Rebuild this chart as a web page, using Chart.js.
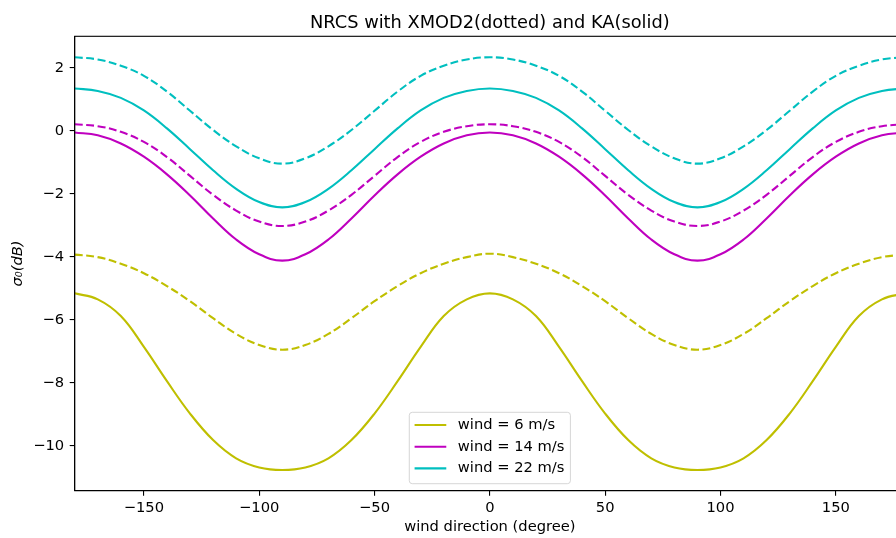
<!DOCTYPE html>
<html>
<head>
<meta charset="utf-8">
<script src="https://cdn.jsdelivr.net/npm/chart.js@4.4.1/dist/chart.umd.min.js"></script>
<style>
  html, body { margin: 0; padding: 0; overflow: hidden; background: #fff; }
  canvas { display: block; }
</style>
</head>
<body>
<canvas id="chart" width="906" height="538"></canvas>
<script>
// wind direction in degrees
const angles = [-180, -170, -160, -150, -140, -130, -120, -110, -100, -90, -80, -70, -60, -50, -40, -30, -20, -10, 0,
  10, 20, 30, 40, 50, 60, 70, 80, 90, 100, 110, 120, 130, 140, 150, 160, 170, 180];

// KA (solid)
const ka6 = [-5.16, -5.35, -5.88, -6.86, -7.95, -8.98, -9.82, -10.40, -10.69, -10.77, -10.69, -10.40, -9.82, -8.98, -7.95, -6.86, -5.88, -5.35, -5.16,
  -5.35, -5.88, -6.86, -7.95, -8.98, -9.82, -10.40, -10.69, -10.77, -10.69, -10.40, -9.82, -8.98, -7.95, -6.86, -5.88, -5.35, -5.16];
const ka14 = [-0.05, -0.14, -0.40, -0.82, -1.38, -2.05, -2.78, -3.45, -3.92, -4.12, -3.92, -3.45, -2.78, -2.05, -1.38, -0.82, -0.40, -0.14, -0.05,
  -0.14, -0.40, -0.82, -1.38, -2.05, -2.78, -3.45, -3.92, -4.12, -3.92, -3.45, -2.78, -2.05, -1.38, -0.82, -0.40, -0.14, -0.05];
const ka22 = [1.35, 1.27, 1.05, 0.65, 0.08, -0.58, -1.25, -1.84, -2.26, -2.43, -2.26, -1.84, -1.25, -0.58, 0.08, 0.65, 1.05, 1.27, 1.35,
  1.27, 1.05, 0.65, 0.08, -0.58, -1.25, -1.84, -2.26, -2.43, -2.26, -1.84, -1.25, -0.58, 0.08, 0.65, 1.05, 1.27, 1.35];

// XMOD2 (dashed)
const xmod6 = [-3.93, -4.01, -4.22, -4.52, -4.93, -5.41, -5.95, -6.45, -6.80, -6.95, -6.80, -6.45, -5.95, -5.41, -4.93, -4.52, -4.22, -4.01, -3.90,
  -4.01, -4.22, -4.52, -4.93, -5.41, -5.95, -6.45, -6.80, -6.95, -6.80, -6.45, -5.95, -5.41, -4.93, -4.52, -4.22, -4.01, -3.93];
const xmod14 = [0.21, 0.15, -0.03, -0.35, -0.83, -1.43, -2.03, -2.53, -2.88, -3.02, -2.88, -2.53, -2.03, -1.43, -0.83, -0.35, -0.03, 0.15, 0.21,
  0.15, -0.03, -0.35, -0.83, -1.43, -2.03, -2.53, -2.88, -3.02, -2.88, -2.53, -2.03, -1.43, -0.83, -0.35, -0.03, 0.15, 0.21];
const xmod22 = [2.34, 2.27, 2.07, 1.75, 1.25, 0.64, 0.03, -0.49, -0.87, -1.04, -0.87, -0.49, 0.03, 0.64, 1.25, 1.75, 2.07, 2.27, 2.34,
  2.27, 2.07, 1.75, 1.25, 0.64, 0.03, -0.49, -0.87, -1.04, -0.87, -0.49, 0.03, 0.64, 1.25, 1.75, 2.07, 2.27, 2.34];

const xTicks = [-150, -100, -50, 0, 50, 100, 150];
const yTicks = [-10, -8, -6, -4, -2, 0, 2];

const FONT = 'DejaVu Sans';
const SIZE = 14.7;
const pts = vals => vals.map((v, i) => ({ x: angles[i], y: v }));
const minus = v => String(v).replace('-', '\u2212');

function line(label, vals, color, dashed) {
  return {
    label: label,
    data: pts(vals),
    borderColor: color,
    backgroundColor: color,
    borderWidth: 2.1,
    borderDash: dashed ? [8, 3.5] : [],
    pointRadius: 0,
    fill: false,
    tension: 0.4,
    inLegend: !dashed
  };
}

// top/right spines like matplotlib's box
const framePlugin = {
  id: 'frame',
  afterDraw(chart) {
    const { ctx, chartArea: a } = chart;
    ctx.save();
    ctx.strokeStyle = '#000';
    ctx.lineWidth = 1.1;
    ctx.strokeRect(a.left, a.top, a.right - a.left, a.bottom - a.top);
    ctx.restore();
  }
};

const titlePlugin = {
  id: 'mplTitle',
  afterDraw(chart) {
    const { ctx, chartArea: a } = chart;
    ctx.save();
    ctx.font = '17.8px "' + FONT + '"';
    ctx.fillStyle = '#000';
    ctx.textAlign = 'center';
    ctx.textBaseline = 'alphabetic';
    ctx.fillText('NRCS with XMOD2(dotted) and KA(solid)', (a.left + a.right) / 2, 27.5);
    ctx.restore();
  }
};

// legend in the lower centre of the axes
const legendPlugin = {
  id: 'mplLegend',
  afterDraw(chart) {
    const { ctx, chartArea: a } = chart;
    const items = chart.data.datasets.filter(d => d.inLegend);
    ctx.save();
    ctx.font = SIZE + 'px "' + FONT + '"';
    const textW = Math.max(...items.map(d => ctx.measureText(d.label).width));
    const w = 48.5 + textW + 6;
    const h = 71.4;
    const x0 = (a.left + a.right) / 2 - w / 2;
    const y0 = a.bottom - 7 - h;
    ctx.beginPath();
    ctx.roundRect(x0, y0, w, h, 3);
    ctx.fillStyle = 'rgba(255,255,255,0.8)';
    ctx.fill();
    ctx.strokeStyle = 'rgba(204,204,204,0.8)';
    ctx.lineWidth = 1;
    ctx.stroke();
    items.forEach((d, i) => {
      const y = y0 + 12.7 + i * 21.7;
      ctx.beginPath();
      ctx.strokeStyle = d.borderColor;
      ctx.lineWidth = 2.1;
      ctx.moveTo(x0 + 5.3, y);
      ctx.lineTo(x0 + 37, y);
      ctx.stroke();
      ctx.fillStyle = '#000';
      ctx.textAlign = 'left';
      ctx.textBaseline = 'middle';
      ctx.fillText(d.label, x0 + 48.5, y);
    });
    ctx.restore();
  }
};

new Chart(document.getElementById('chart'), {
  type: 'line',
  data: {
    datasets: [
      line('wind = 6 m/s', ka6, '#bfbf00', false),
      line('wind = 6 m/s', xmod6, '#bfbf00', true),
      line('wind = 14 m/s', ka14, '#bf00bf', false),
      line('wind = 14 m/s', xmod14, '#bf00bf', true),
      line('wind = 22 m/s', ka22, '#00bfbf', false),
      line('wind = 22 m/s', xmod22, '#00bfbf', true)
    ]
  },
  options: {
    responsive: false,
    animation: false,
    layout: { padding: { top: 36.3, right: 1, left: 0, bottom: 0 } },
    plugins: {
      legend: { display: false },
      tooltip: { enabled: false }
    },
    scales: {
      x: {
        type: 'linear',
        min: -180,
        max: 180,
        afterBuildTicks: s => { s.ticks = xTicks.map(v => ({ value: v })); },
        afterFit: s => { s.height = 47.3; },
        grid: { drawOnChartArea: false, drawTicks: true, tickLength: 5, color: '#000', lineWidth: 1.1 },
        border: { display: true, color: '#000', width: 1.1 },
        ticks: {
          padding: 4,
          color: '#000',
          maxRotation: 0,
          font: { family: FONT, size: SIZE },
          callback: v => minus(v)
        },
        title: {
          display: true,
          text: 'wind direction (degree)',
          color: '#000',
          font: { family: FONT, size: SIZE },
          padding: { top: 0, bottom: 2.2 }
        }
      },
      y: {
        min: -11.43,
        max: 3.006,
        afterBuildTicks: s => { s.ticks = yTicks.map(v => ({ value: v })); },
        afterFit: s => { s.width = 74.7; },
        grid: { drawOnChartArea: false, drawTicks: true, tickLength: 5, color: '#000', lineWidth: 1.1 },
        border: { display: true, color: '#000', width: 1.1 },
        ticks: {
          padding: 5.5,
          color: '#000',
          font: { family: FONT, size: SIZE },
          callback: v => minus(v)
        },
        title: {
          display: true,
          text: 'σ₀(dB)',
          color: '#000',
          font: { family: FONT, size: SIZE, style: 'italic' },
          padding: { top: 9.3, bottom: 0 }
        }
      }
    }
  },
  plugins: [framePlugin, titlePlugin, legendPlugin]
});
</script>
</body>
</html>
